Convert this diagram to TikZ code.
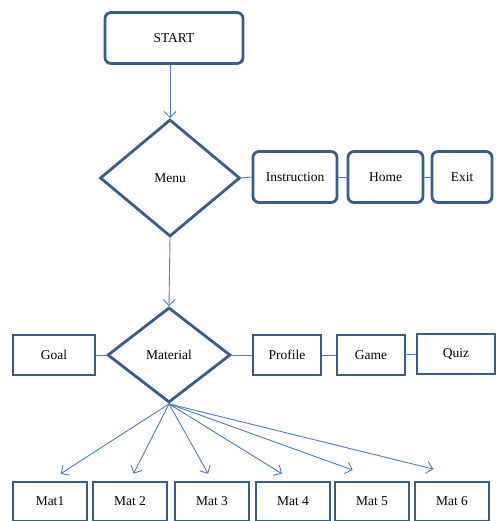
\documentclass[tikz,border=0pt]{standalone}
\usepackage{fontspec}
\setmainfont{Liberation Serif}
\usetikzlibrary{arrows.meta,calc,shapes.geometric}
\definecolor{boxblue}{RGB}{56,93,138}
\definecolor{linkblue}{RGB}{74,126,187}

\begin{document}
\begin{tikzpicture}[
  x=1pt,y=-1pt,
  box/.style={draw=boxblue,line width=2.8pt,fill=white,inner sep=0pt,
    font=\fontsize{13.5}{15}\selectfont,minimum height=40pt},
  rbox/.style={box,rounded corners=6pt,minimum height=51pt},
  choice/.style={diamond,draw=boxblue,line width=2.8pt,fill=white,inner sep=0pt,
    font=\fontsize{13.5}{15}\selectfont},
  link/.style={draw=linkblue,line width=0.9pt},
  flow/.style={link,-{Straight Barb[length=6pt,width=12pt]}}
]
\useasboundingbox (0,0) rectangle (495,521);

% top part
\node[rbox,minimum width=138pt] (start) at (174,38) {START};
\node[choice,minimum width=140pt,minimum height=117pt] (menu) at (170,178) {Menu};
\node[rbox,minimum width=84pt] (instr) at (295,177) {Instruction};
\node[rbox,minimum width=75pt] (home) at (385.5,177) {Home};
\node[rbox,minimum width=60pt] (exit) at (462,177) {Exit};

\draw[flow] (start.south -| menu.north) -- (menu.north);
\draw[link] (menu.east) -- (instr.west);
\draw[link] (instr) -- (home);
\draw[link] (home) -- (exit);

% material row
\node[choice,minimum width=123pt,minimum height=95pt] (material) at (169,355) {Material};
\node[box,minimum width=82pt] (goal) at (54,355) {Goal};
\node[box,minimum width=68pt] (profile) at (287,355) {Profile};
\node[box,minimum width=68pt] (game) at (371,355) {Game};
\node[box,minimum width=78pt] (quiz) at (456,354) {Quiz};

\draw[flow] (menu.south) -- (material.north);
\draw[link] (goal.east) -- (material.west);
\draw[link] (material.east) -- (profile.west);
\draw[link] (profile) -- (game);
\draw[link] (game) -- (quiz);

% materials
\foreach \i/\x/\txt in {1/50/Mat1,2/130/Mat 2,3/212/Mat 3,4/293/Mat 4,5/372/Mat 5,6/452/Mat 6}
  \node[box,minimum width=74pt,minimum height=39pt] (mat\i) at (\x,501.5) {\txt};

\foreach \i/\dx/\f in {1/0/.91,2/0/.91,3/0/.91,4/0/.91,5/10/.8625,6/28/.85}
  \draw[flow] (material.south) -- ($(material.south)!\f!([xshift=\dx pt]mat\i.north)$);
\end{tikzpicture}
\end{document}
